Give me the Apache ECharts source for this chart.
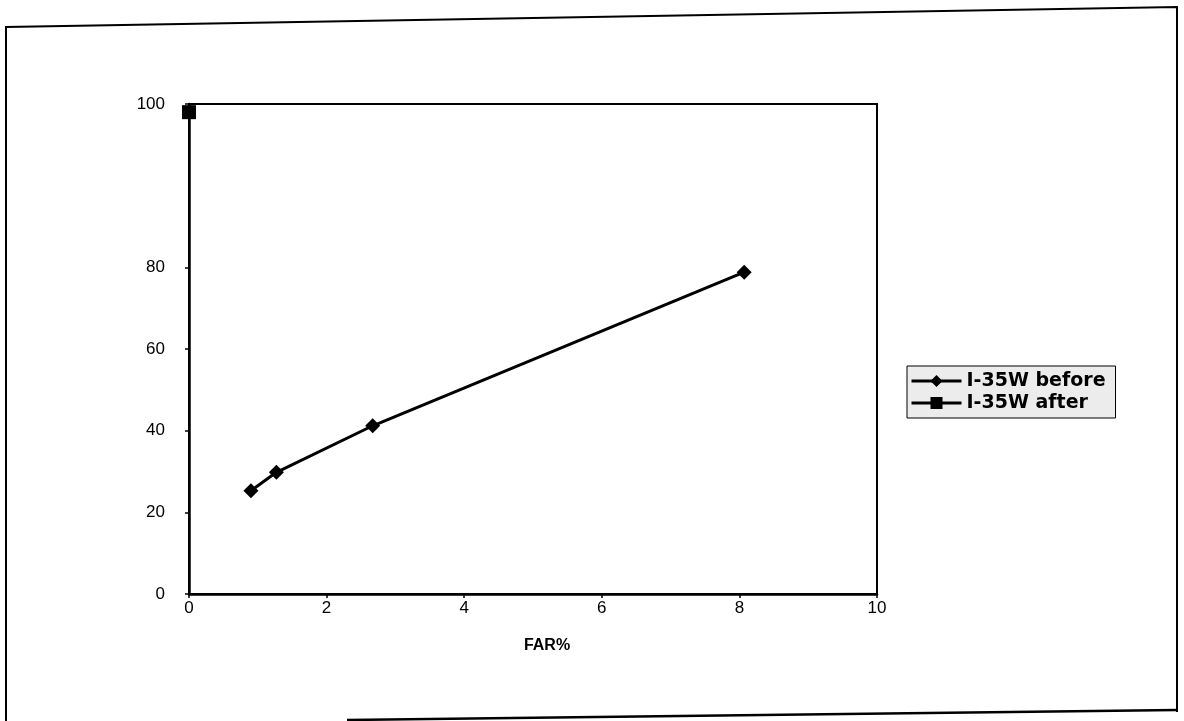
<!DOCTYPE html>
<html>
<head>
<meta charset="utf-8">
<script src="https://cdn.jsdelivr.net/npm/echarts@6/dist/echarts.min.js"></script>
<style>html,body{margin:0;padding:0;background:#fff}#c{width:1184px;height:721px}</style>
</head>
<body>
<div id="c"></div>
<script>
// Data
const beforeX = [0.9, 1.27, 2.67, 8.07];
const beforeY = [25.3, 29.8, 41.2, 78.8];
const afterX = [0];
const afterY = [99];
const seriesNames = ['I-35W before', 'I-35W after'];
const xTicks = [0, 2, 4, 6, 8, 10];
const yTicks = [0, 20, 40, 60, 80, 100];
const xTitle = 'FAR%';

// The printed y scale is stretched above 80 (the 80-100 step is twice as tall)
function toAxis(v) { return v <= 80 ? v : 80 + (v - 80) * 2; }
function fromAxis(a) { return a <= 80 ? a : 80 + (a - 80) / 2; }

const chart = echarts.init(document.getElementById('c'));
const font = '"Liberation Sans", Arial, sans-serif';
chart.setOption({
  animation: false,
  backgroundColor: '#fff',
  grid: { left: 189, right: 307, top: 104, bottom: 127, show: true, borderColor: '#000', borderWidth: 2, backgroundColor: 'transparent' },
  xAxis: {
    type: 'value', min: xTicks[0], max: xTicks[xTicks.length - 1], interval: 2,
    name: xTitle, nameLocation: 'middle', nameGap: 44,
    nameTextStyle: { fontFamily: font, fontWeight: 'bold', fontSize: 16, color: '#000', padding: [0, 0, 0, 28] },
    axisLine: { lineStyle: { color: '#000', width: 2.5 } },
    axisTick: { show: true, length: 4, lineStyle: { color: '#000', width: 1.5 } },
    axisLabel: { fontFamily: font, fontSize: 17, color: '#000', margin: 6 },
    splitLine: { show: false }
  },
  yAxis: {
    type: 'value', min: 0, max: toAxis(yTicks[yTicks.length - 1]), interval: 20,
    axisLine: { lineStyle: { color: '#000', width: 2.5 } },
    axisTick: { show: true, length: 4, customValues: yTicks.map(toAxis), lineStyle: { color: '#000', width: 1.5 } },
    axisLabel: { fontFamily: font, fontSize: 17, color: '#000', margin: 24, customValues: yTicks.map(toAxis),
      formatter: v => String(Math.round(fromAxis(v))) },
    splitLine: { show: false }
  },
  legend: {
    orient: 'vertical', left: 907, top: 366,
    backgroundColor: '#ececec', borderColor: '#000', borderWidth: 1,
    padding: [5, 10, 5, 3], itemGap: 2, itemWidth: 50, itemHeight: 15,
    lineStyle: { width: 3 },
    textStyle: { fontFamily: '"DejaVu Sans", sans-serif', fontWeight: 'bold', fontSize: 19, lineHeight: 20, color: '#000' },
    data: seriesNames
  },
  series: [
    {
      name: seriesNames[0], type: 'line',
      data: beforeX.map((x, i) => [x, toAxis(beforeY[i])]),
      symbol: 'diamond', symbolSize: 15,
      itemStyle: { color: '#000' }, lineStyle: { color: '#000', width: 3 }
    },
    {
      name: seriesNames[1], type: 'line',
      data: afterX.map((x, i) => [x, toAxis(afterY[i])]),
      symbol: 'rect', symbolSize: 14, clip: false,
      itemStyle: { color: '#000' }, lineStyle: { color: '#000', width: 3 }
    }
  ],
  graphic: [
    { type: 'polyline', shape: { points: [[6, 721], [6, 27], [1177, 7], [1177, 712]] }, style: { stroke: '#000', lineWidth: 2, fill: null } },
    { type: 'polyline', shape: { points: [[347, 720], [1177, 710]] }, style: { stroke: '#000', lineWidth: 2.5, fill: null } }
  ]
});
</script>
</body>
</html>
